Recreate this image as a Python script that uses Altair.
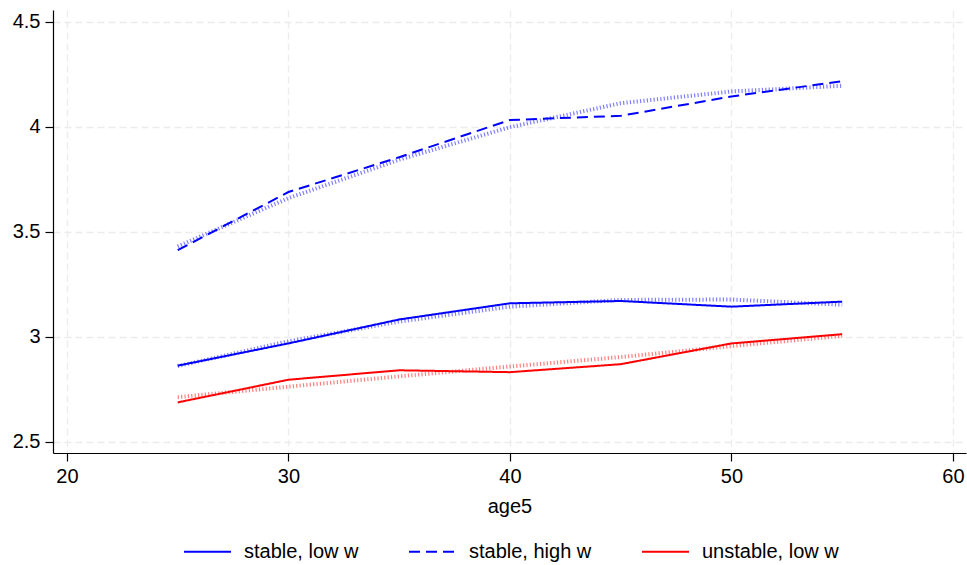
import altair as alt
import pandas as pd

ages = [25, 30, 35, 40, 45, 50, 55]
series_names = ["stable, low w", "stable, high w", "unstable, low w"]
stable_low = [2.862, 2.968, 3.082, 3.159, 3.170, 3.143, 3.167]
stable_high = [3.412, 3.689, 3.855, 4.032, 4.052, 4.144, 4.217]
unstable_low = [2.687, 2.795, 2.840, 2.831, 2.869, 2.968, 3.012]
fit_stable_low = [2.860, 2.978, 3.072, 3.143, 3.175, 3.177, 3.152]
fit_stable_high = [3.430, 3.660, 3.843, 3.998, 4.112, 4.168, 4.195]
fit_unstable_low = [2.712, 2.762, 2.811, 2.858, 2.903, 2.955, 3.004]
colors = ["#0000ff", "#0000ff", "#ff0000"]
x_ticks = [20, 30, 40, 50, 60]
y_ticks = [2.5, 3, 3.5, 4, 4.5]

rows = []
for name, vals in zip(series_names, [stable_low, stable_high, unstable_low]):
    for a, v in zip(ages, vals):
        rows.append({"age5": a, "value": v, "series": name})
df = pd.DataFrame(rows)

fit_rows = []
for name, vals in zip(series_names, [fit_stable_low, fit_stable_high, fit_unstable_low]):
    for a, v in zip(ages, vals):
        fit_rows.append({"age5": a, "value": v, "series": name})
df_fit = pd.DataFrame(fit_rows)

xscale = alt.Scale(domain=[19.37, 60.59], nice=False, zero=False)
yscale = alt.Scale(domain=[2.446, 4.556], nice=False, zero=False)

xenc = alt.X("age5:Q", scale=xscale, title="age5",
             axis=alt.Axis(values=x_ticks, format="d"))
yenc = alt.Y("value:Q", scale=yscale, title=None,
             axis=alt.Axis(values=y_ticks, format="~g"))

fit_layers = []
for name, col in zip(series_names, colors):
    fit_layers.append(
        alt.Chart(df_fit[df_fit["series"] == name])
        .mark_line(strokeWidth=4, strokeDash=[1.2, 2.2], opacity=0.5, color=col)
        .encode(x=xenc, y=yenc)
    )

main = alt.Chart(df).mark_line(strokeWidth=2).encode(
    x=xenc,
    y=yenc,
    color=alt.Color("series:N", scale=alt.Scale(domain=series_names, range=colors),
                    sort=series_names, title=None),
    strokeDash=alt.StrokeDash("series:N",
                              scale=alt.Scale(domain=series_names,
                                              range=[[1, 0], [11, 6], [1, 0]]),
                              sort=series_names, title=None),
)

chart = alt.layer(*fit_layers, main).properties(
    width=913, height=443,
    autosize=alt.AutoSizeParams(type="none"),
    padding={"left": 53, "top": 10, "right": 1, "bottom": 112},
).configure_view(stroke=None).configure_axis(
    labelFont="Liberation Sans", titleFont="Liberation Sans",
    labelFontSize=20, titleFontSize=20, labelColor="black", titleColor="black",
    titleFontWeight="normal",
    domainColor="black", domainWidth=1.2, tickColor="black", tickSize=8, tickWidth=1.2,
    grid=True, gridColor="#ececec", gridDash=[7, 4], gridWidth=1.3,
    labelPadding=5,
).configure_axisX(titlePadding=10).configure_legend(
    orient="none", legendX=130, legendY=517, direction="horizontal",
    symbolType="stroke", symbolSize=2209, symbolStrokeWidth=2,
    labelFont="Liberation Sans", labelFontSize=20, labelColor="black",
    labelOffset=12, columnPadding=46, padding=0, title=None,
)

chart.save("out.html", embed_options={"renderer": "svg", "actions": False})
